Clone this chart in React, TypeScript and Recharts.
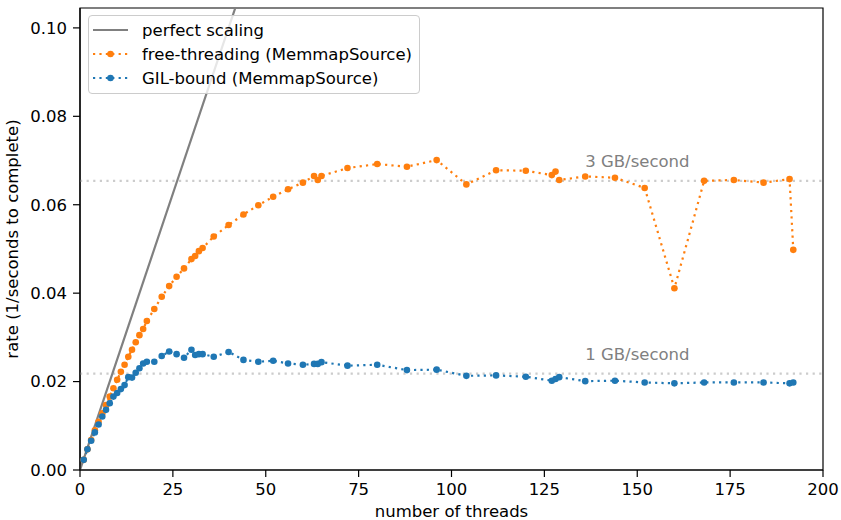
import React from 'react';
import {
  ComposedChart,
  Line,
  XAxis,
  YAxis,
  ReferenceLine,
  ReferenceDot,
  ReferenceArea,
  Legend,
  Label,
} from 'recharts';

const FONT = '"DejaVu Sans", sans-serif';
const FS = 16.5;
const ORANGE = '#ff7f0e';
const BLUE = '#1f77b4';
const GRAY = '#808080';

// thread counts used for both measured series
const threads = [
  1, 2, 3, 4, 5, 6, 7, 8, 9, 10, 11, 12, 13, 14, 15, 16, 17, 18,
  20, 22, 24, 26, 28, 30, 31, 32, 33, 36,
  40, 44, 48, 52, 56, 60, 63, 64, 65, 72,
  80, 88, 96, 104, 112, 120, 127, 128, 129, 136,
  144, 152, 160, 168, 176, 184, 191, 192,
];

// free-threading (MemmapSource) rate, 1/seconds
const freeRates = [
  0.0023, 0.0047, 0.0068, 0.009, 0.0109, 0.0128, 0.0147, 0.0166, 0.0185, 0.0204,
  0.0222, 0.0238, 0.0256, 0.0272, 0.0289, 0.0305, 0.0319, 0.0337,
  0.0364, 0.0392, 0.0416, 0.0437, 0.0456, 0.0477, 0.0484, 0.0495, 0.0502, 0.0528,
  0.0554, 0.0578, 0.0599, 0.0618, 0.0635, 0.065, 0.0665, 0.0656, 0.0665, 0.0683,
  0.0692, 0.0686, 0.0701, 0.0646, 0.0678, 0.0677, 0.0667, 0.0675, 0.0656, 0.0664,
  0.0661, 0.0638, 0.0411, 0.0654, 0.0656, 0.065, 0.0658, 0.0498,
];

// GIL-bound (MemmapSource) rate, 1/seconds
const gilRates = [
  0.0023, 0.0047, 0.0066, 0.0085, 0.0103, 0.0121, 0.0136, 0.0151, 0.0166, 0.0174,
  0.0183, 0.0192, 0.021, 0.0209, 0.022, 0.023, 0.0241, 0.0245,
  0.0245, 0.0258, 0.0268, 0.0262, 0.0254, 0.0272, 0.026, 0.0262, 0.0262, 0.0256,
  0.0267, 0.0249, 0.0245, 0.0247, 0.0241, 0.0238, 0.024, 0.024, 0.0244, 0.0236,
  0.0238, 0.0226, 0.0227, 0.0213, 0.0214, 0.0211, 0.0202, 0.0206, 0.021, 0.0201,
  0.0202, 0.0198, 0.0196, 0.0198, 0.0198, 0.0198, 0.0196, 0.0198,
];

// perfect scaling line endpoints (threads, rate)
const perfectThreads = [0, 41.8];
const perfectRates = [0, 0.1045];

// GB/second reference levels
const gbLevels = [0.0654, 0.0218];
const gbLabels = ['3 GB/second', '1 GB/second'];
const gbLabelThreads = 136;

const xTicks = [0, 25, 50, 75, 100, 125, 150, 175, 200];
const yTicks = [0, 0.02, 0.04, 0.06, 0.08, 0.1];
const xDomain: [number, number] = [0, 200];
const yDomain: [number, number] = [0, 0.1045];

const freeData = threads.map((t, i) => ({ threads: t, rate: freeRates[i] }));
const gilData = threads.map((t, i) => ({ threads: t, rate: gilRates[i] }));
const perfectData = perfectThreads.map((t, i) => ({ threads: t, rate: perfectRates[i] }));

const legendRows = [
  { label: 'perfect scaling', color: GRAY, kind: 'solid' },
  { label: 'free-threading (MemmapSource)', color: ORANGE, kind: 'dot' },
  { label: 'GIL-bound (MemmapSource)', color: BLUE, kind: 'dot' },
];

function LegendBox() {
  return (
    <div
      style={{
        border: '1px solid #cccccc',
        borderRadius: 4,
        background: 'rgba(255,255,255,0.8)',
        padding: '2px 7px 3px 4px',
        fontFamily: FONT,
        fontSize: FS,
        color: '#000',
      }}
    >
      {legendRows.map((r) => (
        <div
          key={r.label}
          style={{ display: 'flex', alignItems: 'center', height: 24, whiteSpace: 'nowrap' }}
        >
          <svg width={35} height={24} style={{ marginRight: 14, display: 'block' }}>
            <line
              x1={0}
              y1={12}
              x2={35}
              y2={12}
              stroke={r.color}
              strokeWidth={r.kind === 'solid' ? 2.2 : 2.2}
              strokeDasharray={r.kind === 'solid' ? undefined : '2.2 4.2'}
            />
            {r.kind === 'dot' && <circle cx={17.5} cy={12} r={3.3} fill={r.color} />}
          </svg>
          <span>{r.label}</span>
        </div>
      ))}
    </div>
  );
}

const gbLabel = (text: string) => (props: any) => {
  const vb = props.viewBox || {};
  return (
    <text x={vb.x} y={vb.y - 14} fill={GRAY} fontSize={FS} fontFamily={FONT}>
      {text}
    </text>
  );
};

const axisStroke = { stroke: '#000', strokeWidth: 1.2 };
const tickStyle = { fill: '#000', fontSize: FS, fontFamily: FONT };

export default function App() {
  return (
    <div style={{ position: 'absolute', left: 0, top: 0, width: 841, height: 520, fontFamily: FONT, background: '#fff' }}>
      <ComposedChart
        width={841}
        height={520}
        margin={{ top: 8, right: 18, bottom: 0, left: 0 }}
        style={{ fontFamily: FONT }}
      >
        <XAxis
          dataKey="threads"
          type="number"
          domain={xDomain}
          ticks={xTicks}
          allowDataOverflow
          height={50}
          tickSize={7}
          tickMargin={6}
          tick={tickStyle}
          axisLine={axisStroke}
          tickLine={axisStroke}
        >
          <Label
            content={(props: any) => {
              const vb = props.viewBox;
              return (
                <text
                  x={vb.x + vb.width / 2}
                  y={vb.y + vb.height - 3}
                  textAnchor="middle"
                  fontSize={FS}
                  fontFamily={FONT}
                  fill="#000"
                >
                  number of threads
                </text>
              );
            }}
          />
        </XAxis>
        <YAxis
          type="number"
          domain={yDomain}
          ticks={yTicks}
          allowDataOverflow
          width={80}
          tickSize={7}
          tickMargin={6}
          tick={tickStyle}
          axisLine={axisStroke}
          tickLine={axisStroke}
          tickFormatter={(v: number) => v.toFixed(2)}
        >
          <Label
            content={(props: any) => {
              const vb = props.viewBox;
              const cy = vb.y + vb.height / 2;
              const cx = 18;
              return (
                <text
                  x={cx}
                  y={cy}
                  transform={`rotate(-90 ${cx} ${cy})`}
                  textAnchor="middle"
                  fontSize={FS}
                  fontFamily={FONT}
                  fill="#000"
                >
                  rate (1/seconds to complete)
                </text>
              );
            }}
          />
        </YAxis>

        {gbLevels.map((lvl) => (
          <ReferenceLine
            key={'rl' + lvl}
            y={lvl}
            stroke="#cccccc"
            strokeWidth={2.2}
            strokeDasharray="2.2 4.4"
          />
        ))}
        {gbLevels.map((lvl, i) => (
          <ReferenceDot
            key={'rd' + lvl}
            x={gbLabelThreads}
            y={lvl}
            r={0}
            fill="none"
            stroke="none"
            label={{ content: gbLabel(gbLabels[i]) } as any}
          />
        ))}

        <Line
          data={perfectData}
          dataKey="rate"
          type="linear"
          stroke={GRAY}
          strokeWidth={2.2}
          dot={false}
          activeDot={false}
          isAnimationActive={false}
          name="perfect scaling"
        />
        <Line
          data={freeData}
          dataKey="rate"
          type="linear"
          stroke={ORANGE}
          strokeWidth={2.2}
          strokeDasharray="2.2 4.2"
          dot={{ r: 3.3, fill: ORANGE, stroke: 'none' }}
          activeDot={false}
          isAnimationActive={false}
          name="free-threading (MemmapSource)"
        />
        <Line
          data={gilData}
          dataKey="rate"
          type="linear"
          stroke={BLUE}
          strokeWidth={2.2}
          strokeDasharray="2.2 4.2"
          dot={{ r: 3.3, fill: BLUE, stroke: 'none' }}
          activeDot={false}
          isAnimationActive={false}
          name="GIL-bound (MemmapSource)"
        />

        <ReferenceArea
          x1={xDomain[0]}
          x2={xDomain[1]}
          y1={yDomain[0]}
          y2={yDomain[1]}
          fill="none"
          fillOpacity={0}
          stroke="#000"
          strokeWidth={1.2}
          ifOverflow="visible"
        />

        <Legend
          content={<LegendBox />}
          layout="horizontal"
          verticalAlign="middle"
          align="center"
          wrapperStyle={{ position: 'absolute', left: 88, top: 15, width: 'auto', height: 'auto' }}
        />
      </ComposedChart>
    </div>
  );
}
